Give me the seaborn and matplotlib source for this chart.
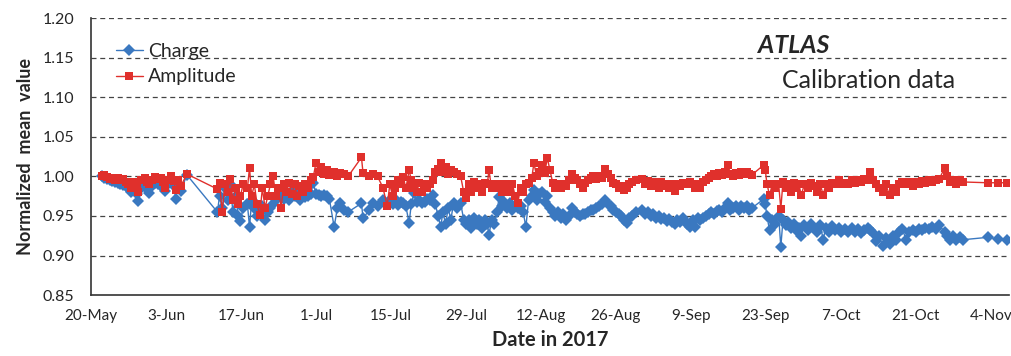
import matplotlib
matplotlib.use('Agg')
import matplotlib.pyplot as plt
from matplotlib.lines import Line2D
import seaborn as sns
import pandas as pd

# dias desde 20-May-2017 (mesmas medições para as duas séries)
days = [2, 2.5, 3, 3.5, 4, 4.5, 5, 5.5, 6, 6.5, 7, 7.5, 8, 8.5, 8.8, 9.3, 10, 10.5, 10.8, 11.3,
        12, 12.5, 13, 13.5, 13.8, 14.3, 15, 15.5, 15.8, 16.3, 16.8, 17.9,
        23.6, 24.0, 24.5, 25.0, 25.5, 26.0, 26.5, 27.0, 27.5, 27.9, 28.4, 29.2, 29.6, 30.0, 30.5,
        31.0, 31.5, 32.0, 32.5, 33.0, 33.5, 34.0, 34.5, 35.0, 35.5, 36.0, 36.5, 37.0, 37.5, 38.0,
        38.5, 39.0, 39.5, 40.0, 40.5, 41.0, 41.5, 42.0, 42.5, 43.0, 43.5, 44.0, 44.5, 45.4, 46.0,
        46.5, 47.2, 48.0, 50.5, 50.8, 52.0, 52.7, 53.5, 54.5, 55.3,
        55.8, 56.3, 56.8, 57.3, 57.8, 58.3, 58.8, 59.4, 59.8, 60.3, 60.8, 61.3, 61.8, 62.3, 62.8,
        63.3, 63.8, 64.3, 64.8, 65.3, 65.7, 66.2, 66.7, 67.2, 67.7, 68.3, 69.0, 69.6, 70.0, 70.5,
        71.0, 71.5, 72.0, 72.5, 73.0, 73.5, 74.0, 74.3, 74.8, 75.3, 75.8, 76.2, 76.7, 77.2, 77.7,
        78.2, 78.7, 79.2, 79.7, 80.2, 80.7, 81.2, 81.7, 82.3, 82.7, 83.2, 83.7, 84.2,
        84.7, 85.2, 85.7, 86.2, 86.7, 87.2, 87.7, 88.2, 88.7, 89.2, 89.8, 90.3, 90.8, 91.3, 91.8,
        92.3, 92.8, 93.3, 93.8, 94.3, 94.8, 95.4, 96.0, 96.5, 97.0, 97.5, 98.0, 98.5, 99.0, 99.5,
        100.0, 100.5, 101.0, 101.8, 102.8, 103.5, 104.0, 104.5, 105.0, 105.5, 106.0, 106.5, 107.0,
        107.5, 108.0, 108.5, 109.0, 109.5, 110.0, 110.6, 111.2, 111.8,
        112.4, 112.8, 113.3, 113.8, 114.3, 114.8, 115.3, 115.8, 116.3, 116.8, 117.3, 117.8, 118.3,
        118.9, 119.4, 119.9, 120.4, 120.9, 121.4, 121.9, 122.4, 122.9, 123.4, 125.7, 125.9, 126.2,
        126.7, 127.2, 127.8, 128.4, 128.8, 129.2, 129.7, 130.2, 130.7, 131.2, 131.7, 132.2, 132.6,
        133.2, 133.8, 134.4, 135.0, 135.6, 136.2, 136.7, 137.2, 137.8, 138.4, 139.0, 139.6, 140.1,
        140.8, 141.4, 142.0, 142.6, 143.2, 143.8, 144.4, 145.0, 145.5, 146.0, 146.6, 147.2, 147.8,
        148.4, 149.1, 149.7, 150.3, 150.9, 151.5, 152.2, 152.8, 153.4, 154.0, 154.6, 155.2, 155.8,
        156.4, 157.0, 157.8, 158.4, 159.4, 159.9, 160.4, 161.0, 161.6, 162.2, 162.8, 167.4, 169.3,
        171.1]

charge = [1.000, 0.998, 0.997, 0.995, 0.994, 0.993, 0.992, 0.990, 0.989, 0.988, 0.985, 0.980,
          0.984, 0.978, 0.969, 0.985, 0.990, 0.984, 0.979, 0.988, 0.992, 0.990, 0.991, 0.985,
          0.981, 0.990, 0.993, 0.988, 0.972, 0.990, 0.982, 1.002,
          0.955, 0.975, 0.960, 0.985, 0.970, 0.990, 0.955, 0.975, 0.950, 0.944, 0.960, 0.965,
          0.936, 0.970, 0.960, 0.950, 0.958, 0.962, 0.945, 0.955, 0.960, 0.965, 0.970, 0.975,
          0.980, 0.972, 0.978, 0.970, 0.982, 0.975, 0.978, 0.970, 0.976, 0.974, 0.975, 0.978,
          0.992, 0.978, 0.976, 0.975, 0.977, 0.975, 0.972, 0.936, 0.960, 0.967, 0.958, 0.955,
          0.966, 0.947, 0.958, 0.966, 0.963, 0.970, 0.965,
          0.970, 0.965, 0.972, 0.964, 0.968, 0.966, 0.962, 0.941, 0.965, 0.979, 0.968, 0.970,
          0.966, 0.968, 0.972, 0.970, 0.976, 0.965, 0.950, 0.936, 0.955, 0.940, 0.960, 0.945,
          0.967, 0.960, 0.967, 0.945, 0.940, 0.945, 0.935, 0.948, 0.940, 0.945, 0.935, 0.945,
          0.940, 0.926, 0.945, 0.940, 0.955, 0.974, 0.962, 0.968, 0.960, 0.966, 0.958, 0.963,
          0.960, 0.962, 0.955, 0.936, 0.970, 0.975, 0.983, 0.970, 0.978, 0.980,
          0.968, 0.975, 0.960, 0.955, 0.950, 0.955, 0.948, 0.952, 0.945, 0.950, 0.960, 0.955,
          0.952, 0.950, 0.952, 0.953, 0.955, 0.958, 0.957, 0.960, 0.962, 0.965, 0.970, 0.965,
          0.962, 0.958, 0.955, 0.952, 0.950, 0.945, 0.941, 0.948, 0.950, 0.955, 0.957, 0.953,
          0.955, 0.950, 0.952, 0.948, 0.950, 0.946, 0.948, 0.944, 0.946, 0.943, 0.940, 0.945,
          0.943, 0.947, 0.940, 0.936,
          0.945, 0.936, 0.948, 0.945, 0.948, 0.950, 0.952, 0.955, 0.953, 0.956, 0.958, 0.955,
          0.960, 0.967, 0.958, 0.960, 0.962, 0.958, 0.963, 0.960, 0.962, 0.958, 0.960, 0.972,
          0.965, 0.950, 0.932, 0.945, 0.940, 0.950, 0.911, 0.945, 0.938, 0.942, 0.935, 0.940,
          0.932, 0.935, 0.925, 0.938, 0.932, 0.940, 0.935, 0.930, 0.938, 0.920, 0.935, 0.930,
          0.937, 0.932, 0.935, 0.930,
          0.933, 0.930, 0.935, 0.930, 0.933, 0.928, 0.932, 0.935, 0.932, 0.928, 0.918, 0.925,
          0.912, 0.922, 0.914, 0.925, 0.920, 0.930, 0.933, 0.920, 0.930, 0.932, 0.930, 0.933,
          0.932, 0.935, 0.933, 0.936, 0.934, 0.938, 0.930, 0.925, 0.920, 0.925, 0.920, 0.923,
          0.920, 0.923, 0.921, 0.920]

amplitude = [1.000, 1.002, 0.999, 0.997, 0.998, 0.996, 0.998, 0.995, 0.997, 0.993, 0.990, 0.985,
             0.993, 0.987, 0.980, 0.995, 0.998, 0.993, 0.990, 0.996, 0.999, 0.997, 0.998, 0.993,
             0.986, 0.996, 1.000, 0.994, 0.983, 0.995, 0.988, 1.003,
             0.984, 0.992, 0.955, 0.990, 0.980, 0.997, 0.970, 0.985, 0.965, 0.975, 0.990, 0.985,
             1.011, 0.975, 0.990, 0.965, 0.951, 0.985, 0.960, 0.975, 0.990, 1.001, 0.975, 0.985,
             0.960, 0.990, 0.980, 0.992, 0.978, 0.990, 0.975, 0.988, 0.980, 0.990, 0.985, 0.995,
             0.999, 1.017, 1.005, 1.012, 1.003, 1.008, 1.002, 1.006, 1.001, 1.004, 1.003, 1.000,
             1.024, 1.004, 1.000, 1.003, 1.000, 0.986, 0.963,
             0.990, 0.975, 0.985, 0.995, 0.990, 0.999, 0.985, 1.008, 0.995, 0.985, 0.980, 0.992,
             0.980, 0.990, 0.985, 0.990, 0.995, 1.005, 1.010, 1.017, 1.005, 1.012, 1.003, 1.008,
             1.005, 1.003, 1.001, 0.980, 0.973, 0.990, 0.980, 0.993, 0.985, 0.990, 0.980, 0.992,
             0.990, 1.008, 0.985, 0.990, 0.985, 0.990, 0.980, 0.990, 0.985, 0.980, 0.990, 0.975,
             0.967, 0.985, 0.980, 0.990, 0.992, 0.998, 1.017, 1.000, 1.005, 1.014,
             1.004, 1.023, 1.008, 0.992, 0.986, 0.990, 0.985, 0.990, 0.988, 0.996, 1.003, 0.998,
             0.995, 0.990, 0.985, 0.992, 0.995, 0.998, 1.000, 0.997, 1.000, 0.998, 1.010, 1.003,
             0.998, 0.992, 0.990, 0.985, 0.988, 0.983, 0.986, 0.990, 0.993, 0.995, 0.997, 0.990,
             0.994, 0.988, 0.993, 0.990, 0.985, 0.993, 0.988, 0.990, 0.986, 0.990, 0.982, 0.990,
             0.988, 0.992, 0.990, 0.993,
             0.990, 0.985, 0.990, 0.986, 0.993, 0.995, 0.998, 1.000, 1.003, 1.000, 1.004, 1.002,
             1.005, 1.015, 1.003, 1.000, 1.004, 1.002, 1.005, 1.003, 1.006, 1.003, 1.002, 1.015,
             1.008, 0.991, 0.976, 0.990, 0.985, 0.990, 0.959, 0.993, 0.985, 0.990, 0.980, 0.992,
             0.985, 0.990, 0.976, 0.990, 0.985, 0.992, 0.988, 0.980, 0.990, 0.976, 0.990, 0.985,
             0.992, 0.990, 0.995, 0.990,
             0.992, 0.990, 0.995, 0.992, 0.996, 0.993, 0.997, 0.995, 1.006, 0.995, 0.990, 0.985,
             0.980, 0.990, 0.976, 0.985, 0.980, 0.990, 0.993, 0.990, 0.993, 0.988, 0.993, 0.990,
             0.994, 0.992, 0.995, 0.993, 0.996, 0.997, 1.011, 1.000, 0.993, 0.995, 0.990, 0.995,
             0.993, 0.992, 0.992, 0.992]

tick_labels = ['20-May', '3-Jun', '17-Jun', '1-Jul', '15-Jul', '29-Jul', '12-Aug',
               '26-Aug', '9-Sep', '23-Sep', '7-Oct', '21-Oct', '4-Nov']

start = pd.Timestamp('2017-05-20')
df = pd.DataFrame({'data': start + pd.to_timedelta(days, unit='D'),
                   'Charge': charge, 'Amplitude': amplitude})

sns.set_style('white')
plt.rcParams['font.family'] = ['Lato', 'DejaVu Sans']

azul = '#3a78c0'
vermelho = '#e0302c'

fig = plt.figure(figsize=(10.11, 3.56), dpi=100)
ax = fig.add_axes([0.09, 0.171, 0.908, 0.778])

# grade tracejada atrás das séries
for y in [0.90, 0.95, 1.00, 1.05, 1.10, 1.15, 1.20]:
    ax.axhline(y, color='#444444', lw=0.9, ls=(0, (4, 3)), zorder=0)

sns.lineplot(data=df, x='data', y='Charge', ax=ax, color=azul, marker='D', markersize=5.8,
             markeredgewidth=0, lw=1.0, sort=False, estimator=None)
sns.lineplot(data=df, x='data', y='Amplitude', ax=ax, color=vermelho, marker='s', markersize=5.5,
             markeredgewidth=0, lw=1.0, sort=False, estimator=None)

ax.set_ylim(0.85, 1.20)
ax.set_yticks([0.85, 0.90, 0.95, 1.00, 1.05, 1.10, 1.15, 1.20])
ax.set_yticklabels(['%.2f' % v for v in ax.get_yticks()], fontsize=11.5)

tick_dates = pd.date_range(start, periods=len(tick_labels), freq='14D')
ax.set_xticks(tick_dates)
ax.set_xticklabels(tick_labels, fontsize=11)
ax.set_xlim(start, start + pd.Timedelta(days=171.4))

ax.tick_params(axis='both', direction='out', length=4, width=0.9, color='#333333')
ax.tick_params(axis='x', pad=6)
ax.tick_params(axis='y', pad=8)
for s in ['top', 'right']:
    ax.spines[s].set_visible(False)
for s in ['left', 'bottom']:
    ax.spines[s].set_color('#333333')
    ax.spines[s].set_linewidth(1.2)

ax.set_xlabel('Date in 2017', fontsize=14.5, fontweight='bold', labelpad=5)
ax.set_ylabel('Normalized  mean  value', fontsize=13, fontweight='bold', labelpad=6)

handles = [Line2D([], [], color=azul, marker='D', markersize=5.8, markeredgewidth=0, lw=1.0),
           Line2D([], [], color=vermelho, marker='s', markersize=5.5, markeredgewidth=0, lw=1.0)]
ax.legend(handles, ['Charge', 'Amplitude'], loc='upper left', bbox_to_anchor=(0.008, 0.975),
          frameon=False, fontsize=14, handlelength=1.4, handletextpad=0.25, labelspacing=0.45)

ax.text(0.765, 0.90, 'ATLAS', transform=ax.transAxes, fontsize=18, fontweight='bold',
        fontstyle='italic', ha='center', va='center')
ax.text(0.847, 0.775, 'Calibration data', transform=ax.transAxes, fontsize=18,
        ha='center', va='center')

plt.savefig('out.png', dpi=100)
